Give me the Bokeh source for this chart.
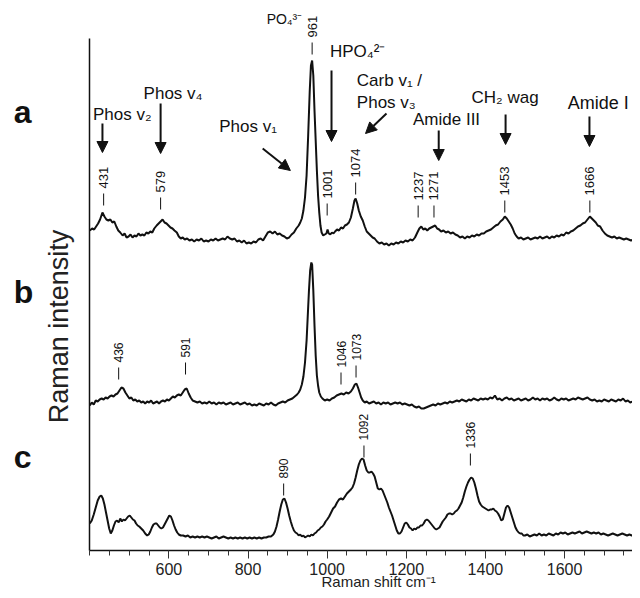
import math
from bokeh.plotting import figure
from bokeh.models import (Range1d, FixedTicker, Label, LabelSet, Arrow, NormalHead,
                          ColumnDataSource)
from bokeh.core.properties import value
from bokeh.embed import file_html
from bokeh.resources import INLINE

# ---------------- data: Raman shift (cm-1) and relative intensity ----------------
a_shift = [400, 406, 411, 416, 421, 426, 432, 437, 442, 447, 452, 457, 462, 467, 472, 477, 483, 488, 493, 498,
           503, 508, 513, 518, 523, 528, 533, 538, 543, 548, 553, 558, 563, 569, 574, 579, 584, 589, 594, 599,
           604, 609, 614, 620, 625, 630, 635, 640, 646, 652, 658, 664, 670, 676, 682, 688, 694, 700, 706, 712,
           718, 724, 730, 736, 742, 748, 754, 760, 766, 772, 778, 784, 790, 796, 802, 808, 814, 820, 826, 832,
           838, 844, 850, 856, 862, 868, 874, 880, 886, 892, 898, 904, 910, 916, 922, 928, 932, 936, 940, 944,
           948, 952, 956, 959, 962, 965, 968, 971, 974, 977, 980, 983, 986, 990, 994, 998, 1001, 1004, 1008, 1012,
           1016, 1020, 1025, 1030, 1035, 1040, 1045, 1050, 1055, 1060, 1065, 1069, 1072, 1076, 1080, 1085, 1090, 1095, 1100, 1105,
           1110, 1115, 1120, 1126, 1132, 1138, 1144, 1150, 1156, 1162, 1168, 1174, 1180, 1186, 1192, 1198, 1204, 1210, 1216, 1222,
           1228, 1233, 1238, 1243, 1248, 1253, 1258, 1263, 1268, 1273, 1278, 1283, 1288, 1294, 1300, 1306, 1312, 1318, 1324, 1330,
           1336, 1342, 1348, 1354, 1360, 1366, 1372, 1378, 1384, 1390, 1396, 1402, 1408, 1414, 1420, 1426, 1432, 1438, 1444, 1449,
           1454, 1459, 1464, 1469, 1474, 1479, 1484, 1490, 1496, 1502, 1508, 1514, 1520, 1526, 1532, 1538, 1544, 1550, 1556, 1562,
           1568, 1574, 1580, 1586, 1592, 1598, 1604, 1610, 1616, 1622, 1628, 1634, 1640, 1646, 1652, 1658, 1664, 1669, 1674, 1679,
           1684, 1690, 1696, 1702, 1708, 1714, 1720, 1726, 1732, 1738, 1744, 1750, 1756, 1762, 1768, 1774, 1780, 1786, 1792]
a_int = [20, 22, 21, 24, 27, 31, 38, 34, 31, 30, 31, 28, 29, 24, 20, 18, 15, 17, 13, 14,
         16, 13, 15, 14, 17, 15, 16, 15, 18, 17, 19, 18, 22, 25, 27, 29, 31, 28, 27, 25,
         23, 22, 20, 18, 14, 12, 13, 11, 12, 10, 11, 9, 11, 10, 12, 9, 10, 9, 11, 10,
         12, 10, 11, 12, 11, 14, 12, 11, 12, 9, 10, 8, 10, 7, 8, 7, 9, 8, 11, 12,
         10, 14, 18, 19, 17, 19, 16, 17, 15, 14, 12, 13, 16, 18, 22, 25, 28, 32, 40, 53,
         75, 115, 160, 185, 190, 175, 140, 110, 80, 55, 38, 25, 18, 15, 16, 17, 21, 17, 16, 18,
         17, 19, 21, 20, 23, 22, 25, 26, 28, 33, 42, 50, 52, 47, 40, 34, 30, 24, 19, 17,
         15, 13, 12, 9, 7, 8, 6, 7, 5, 7, 6, 8, 7, 9, 8, 10, 9, 11, 10, 13,
         18, 22, 24, 21, 22, 20, 22, 23, 24, 25, 22, 21, 19, 20, 18, 19, 17, 18, 16, 15,
         13, 14, 12, 14, 13, 15, 14, 16, 15, 17, 17, 19, 20, 21, 23, 25, 26, 29, 31, 34,
         32, 29, 26, 22, 17, 14, 12, 13, 11, 12, 13, 11, 12, 13, 12, 14, 12, 13, 14, 12,
         14, 13, 15, 14, 16, 15, 18, 17, 19, 20, 22, 24, 25, 27, 28, 31, 34, 32, 30, 28,
         25, 24, 20, 17, 15, 14, 13, 14, 12, 13, 12, 11, 12, 11, 10, 11, 9, 10, 8]

b_shift = [400, 405, 410, 415, 420, 425, 430, 435, 440, 445, 450, 455, 460, 465, 470, 475, 480, 485, 490, 495,
           500, 505, 510, 515, 520, 525, 530, 535, 540, 545, 550, 555, 560, 565, 570, 575, 580, 585, 590, 595,
           600, 605, 610, 615, 620, 625, 630, 635, 640, 645, 650, 655, 660, 666, 672, 678, 684, 690, 696, 702,
           708, 714, 720, 726, 732, 738, 744, 750, 756, 762, 768, 774, 780, 786, 792, 798, 804, 810, 816, 822,
           828, 834, 840, 846, 852, 858, 864, 870, 876, 882, 888, 894, 900, 906, 912, 918, 924, 928, 932, 936,
           940, 944, 948, 951, 954, 957, 960, 962, 965, 968, 971, 974, 977, 980, 984, 988, 994, 1000, 1006, 1012,
           1018, 1024, 1030, 1036, 1042, 1048, 1054, 1060, 1065, 1070, 1074, 1078, 1082, 1086, 1090, 1095, 1100, 1106, 1112, 1118,
           1124, 1130, 1136, 1142, 1148, 1154, 1160, 1166, 1172, 1178, 1184, 1190, 1196, 1202, 1208, 1214, 1220, 1226, 1232, 1238,
           1244, 1250, 1256, 1262, 1268, 1274, 1280, 1286, 1292, 1298, 1304, 1310, 1316, 1322, 1328, 1334, 1340, 1346, 1352, 1358,
           1364, 1370, 1376, 1382, 1388, 1394, 1400, 1406, 1412, 1418, 1424, 1430, 1436, 1442, 1448, 1454, 1460, 1466, 1472, 1478,
           1484, 1490, 1496, 1502, 1508, 1514, 1520, 1526, 1532, 1538, 1544, 1550, 1556, 1562, 1568, 1574, 1580, 1586, 1592, 1598,
           1604, 1610, 1616, 1622, 1628, 1634, 1640, 1646, 1652, 1658, 1664, 1670, 1676, 1682, 1688, 1694, 1700, 1706, 1712, 1718,
           1724, 1730, 1736, 1742, 1748, 1754, 1760, 1766, 1772, 1778, 1784, 1792]
b_int = [5, 8, 6, 10, 9, 11, 12, 11, 13, 12, 14, 15, 14, 16, 17, 20, 23, 22, 18, 15,
         12, 13, 10, 11, 9, 10, 8, 9, 7, 9, 8, 10, 7, 8, 9, 7, 9, 10, 9, 11,
         10, 12, 14, 13, 15, 16, 15, 18, 21, 22, 17, 13, 10, 9, 8, 9, 7, 8, 7, 9,
         7, 8, 6, 8, 7, 8, 6, 7, 8, 6, 7, 8, 6, 7, 8, 6, 7, 5, 6, 5,
         7, 6, 5, 7, 6, 8, 6, 5, 7, 8, 9, 8, 10, 11, 12, 14, 16, 18, 21, 26,
         34, 48, 70, 95, 120, 140, 148, 146, 120, 85, 55, 35, 25, 18, 14, 12, 10, 11, 10, 12,
         13, 15, 16, 17, 16, 18, 17, 19, 22, 26, 27, 23, 18, 13, 10, 8, 9, 7, 8, 9,
         7, 8, 6, 8, 7, 8, 6, 7, 8, 7, 8, 6, 7, 6, 5, 6, 4, 3, 4, 2,
         2, 3, 4, 5, 6, 5, 7, 6, 7, 8, 7, 9, 8, 9, 10, 9, 11, 10, 9, 11,
         10, 12, 11, 10, 12, 11, 12, 11, 13, 12, 15, 11, 12, 10, 12, 13, 11, 12, 10, 11,
         12, 10, 11, 12, 10, 11, 13, 11, 12, 10, 12, 11, 12, 10, 11, 13, 11, 10, 12, 11,
         12, 10, 11, 12, 11, 13, 12, 11, 12, 13, 11, 10, 11, 9, 10, 9, 11, 10, 9, 11,
         10, 9, 11, 10, 12, 9, 10, 8, 9, 8, 7, 6]

c_shift = [400, 405, 410, 415, 420, 425, 429, 433, 437, 441, 445, 449, 453, 457, 461, 465, 469, 473, 477, 481,
           485, 489, 493, 497, 501, 505, 509, 513, 517, 521, 525, 530, 535, 540, 545, 549, 553, 557, 561, 565,
           569, 573, 577, 581, 585, 589, 593, 597, 601, 605, 609, 613, 617, 621, 625, 630, 636, 642, 648, 654,
           660, 666, 672, 678, 684, 690, 696, 702, 708, 714, 720, 726, 732, 738, 744, 750, 756, 762, 768, 774,
           780, 786, 792, 798, 804, 810, 816, 822, 828, 834, 840, 846, 852, 858, 864, 868, 872, 876, 880, 884,
           888, 892, 896, 900, 904, 908, 912, 916, 920, 924, 928, 932, 936, 940, 944, 948, 952, 956, 960, 964,
           968, 972, 976, 980, 984, 988, 992, 996, 1000, 1005, 1010, 1015, 1020, 1025, 1030, 1035, 1040, 1045, 1050, 1055,
           1060, 1064, 1068, 1072, 1076, 1080, 1084, 1088, 1092, 1096, 1100, 1104, 1108, 1112, 1116, 1120, 1124, 1128, 1132, 1136,
           1140, 1144, 1148, 1152, 1156, 1160, 1164, 1168, 1172, 1176, 1180, 1184, 1188, 1192, 1196, 1200, 1204, 1208, 1212, 1216,
           1220, 1224, 1228, 1232, 1236, 1240, 1244, 1248, 1252, 1256, 1260, 1264, 1268, 1272, 1276, 1280, 1284, 1288, 1292, 1296,
           1300, 1304, 1308, 1312, 1316, 1320, 1324, 1328, 1332, 1336, 1340, 1344, 1348, 1352, 1356, 1360, 1364, 1368, 1372, 1376,
           1380, 1384, 1388, 1392, 1396, 1400, 1404, 1408, 1412, 1416, 1420, 1424, 1428, 1432, 1436, 1440, 1444, 1448, 1452, 1456,
           1460, 1464, 1468, 1472, 1476, 1480, 1484, 1488, 1492, 1496, 1500, 1506, 1512, 1518, 1524, 1530, 1536, 1542, 1548, 1554,
           1560, 1566, 1572, 1578, 1584, 1590, 1596, 1602, 1608, 1614, 1620, 1626, 1632, 1638, 1644, 1650, 1656, 1662, 1668, 1674,
           1680, 1686, 1692, 1698, 1704, 1710, 1716, 1722, 1728, 1734, 1740, 1746, 1752, 1758, 1764, 1770, 1776, 1782, 1788, 1792]
c_int = [17, 20, 26, 33, 40, 44, 45, 42, 36, 28, 20, 12, 7, 10, 15, 19, 20, 18, 22, 19,
         21, 20, 22, 24, 25, 23, 21, 20, 17, 15, 14, 12, 10, 7, 5, 6, 9, 13, 16, 17,
         17, 15, 13, 12, 13, 16, 19, 22, 25, 24, 20, 15, 11, 8, 6, 5, 5, 4, 5, 3,
         4, 3, 4, 3, 4, 3, 4, 3, 2, 3, 4, 2, 3, 4, 3, 2, 3, 2, 3, 2,
         3, 2, 3, 2, 3, 2, 3, 2, 3, 2, 3, 3, 4, 4, 6, 9, 14, 21, 29, 36,
         41, 42, 38, 32, 25, 19, 14, 10, 8, 7, 5, 6, 4, 5, 3, 4, 5, 4, 6, 5,
         7, 8, 10, 11, 13, 14, 16, 19, 21, 24, 28, 32, 34, 38, 41, 42, 41, 44, 47, 49,
         51, 53, 57, 63, 70, 76, 80, 82, 81, 75, 70, 68, 68, 69, 67, 64, 58, 52, 51, 52,
         50, 46, 42, 38, 33, 29, 25, 20, 15, 10, 7, 7, 9, 13, 17, 18, 16, 13, 12, 10,
         12, 11, 13, 13, 15, 15, 17, 20, 21, 20, 18, 16, 14, 12, 11, 12, 13, 16, 19, 21,
         23, 26, 27, 27, 26, 27, 29, 30, 32, 35, 38, 43, 49, 54, 58, 61, 63, 62, 58, 52,
         45, 39, 36, 34, 33, 32, 31, 30, 31, 31, 32, 30, 29, 27, 24, 20, 21, 27, 33, 35,
         33, 28, 23, 18, 13, 10, 8, 7, 7, 5, 5, 6, 4, 5, 6, 5, 7, 5, 6, 5,
         7, 6, 5, 7, 6, 8, 7, 8, 6, 7, 8, 7, 8, 9, 7, 8, 9, 8, 7, 8,
         7, 8, 6, 7, 6, 5, 6, 7, 6, 5, 6, 7, 6, 5, 6, 5, 6, 5, 6, 5]

# vertical stacking offsets of the three traces (plot units)
A_OFF, B_OFF, C_OFF = 300, 140, 10

# peak labels (text) and their positions on the shift axis
a_peak_text = ["431", "579", "961", "1001", "1074", "1237", "1271", "1453", "1666"]
a_peak_x = [435, 579, 962, 1000, 1072, 1230, 1270, 1449, 1664]
a_peak_y = [362, 358, 513, 352, 373, 350, 350, 355, 355]
b_peak_text = ["436", "591", "1046", "1073"]
b_peak_x = [473, 642, 1035, 1073]
b_peak_y = [188, 193, 183, 190]
c_peak_text = ["890", "1092", "1336"]
c_peak_x = [890, 1093, 1362]
c_peak_y = [72, 110, 102]

x_major_ticks = [600, 800, 1000, 1200, 1400, 1600]
x_minor_ticks = list(range(400, 1800, 50))

SANS = "Liberation Sans"
INK = "#111111"

# the frame fills the canvas; the axes are pinned at shift 400 and intensity 0
p = figure(width=632, height=590, output_backend="svg", toolbar_location=None,
           x_range=Range1d(174.3, 1771.8), y_range=Range1d(-40, 550), min_border=0)
p.outline_line_color = None
p.grid.visible = False

xa = p.xaxis[0]
xa.fixed_location = 0
xa.bounds = (400, 1800)
xa.ticker = FixedTicker(ticks=x_major_ticks, minor_ticks=x_minor_ticks)
xa.axis_line_width = 1.5
xa.axis_line_color = INK
xa.major_tick_out = 8
xa.major_tick_in = 0
xa.minor_tick_out = 5
xa.minor_tick_in = 0
xa.major_tick_line_color = "#333333"
xa.minor_tick_line_color = "#333333"
xa.major_label_text_font = SANS
xa.major_label_text_font_size = "16px"
xa.major_label_text_color = "#222222"
xa.major_label_standoff = 4

ya = p.yaxis[0]
ya.fixed_location = 400
ya.bounds = (0, 512)
ya.ticker = FixedTicker(ticks=[])
ya.axis_line_width = 1.5
ya.axis_line_color = INK
ya.major_tick_out = 0
ya.minor_tick_out = 0
ya.major_label_text_font_size = "0px"

# spectra
for xs, ys, off in ((a_shift, a_int, A_OFF), (b_shift, b_int, B_OFF), (c_shift, c_int, C_OFF)):
    p.line(xs, [v + off for v in ys], line_color=INK, line_width=2)

# peak labels with their little tick marks
def peak_labels(xs, ys, texts, size):
    src = ColumnDataSource(dict(x=xs, y=ys, text=texts))
    p.add_layout(LabelSet(x="x", y="y", text="text", source=src, angle=math.pi / 2,
                          text_align="left", text_baseline="middle",
                          text_font=value(SANS), text_font_size=size, text_color=INK))
    p.segment(x0=xs, x1=xs, y0=[y - 17 for y in ys], y1=[y - 5 for y in ys],
              line_color=INK, line_width=1)

peak_labels(a_peak_x, a_peak_y, a_peak_text, "13px")
peak_labels(b_peak_x, b_peak_y, b_peak_text, "12px")
peak_labels(c_peak_x, c_peak_y, c_peak_text, "12px")

# band annotations
def note(x, y, text, size="17px"):
    p.add_layout(Label(x=x, y=y, text=text, text_font=SANS, text_font_size=size,
                       text_color=INK, text_baseline="alphabetic"))

note(847, 532, "PO\u2084\u00b3\u207b", size="14px")
note(408, 436, "Phos v\u2082")
note(536, 457, "Phos v\u2084")
note(727, 424, "Phos v\u2081")
note(1007, 499, "HPO\u2084\u00b2\u207b")
note(1075, 470, "Carb v\u2081 /")
note(1075, 448, "Phos v\u2083")
note(1217, 431, "Amide III")
note(1365, 453, "CH\u2082 wag")
note(1608, 448, "Amide I", size="18px")

arrows = [((432, 427), (432, 398)), ((579, 447), (579, 397)), ((837, 402), (907, 380)),
          ((1011, 480), (1011, 409)), ((1150, 437), (1097, 417)), ((1282, 420), (1282, 390)),
          ((1451, 436), (1451, 406)), ((1663, 434), (1663, 404))]
for (x0, y0), (x1, y1) in arrows:
    p.add_layout(Arrow(x_start=x0, y_start=y0, x_end=x1, y_end=y1, line_width=2, line_color=INK,
                       end=NormalHead(size=11, fill_color=INK, line_color=INK)))

# trace letters
for txt, y in (("a", 439), ("b", 259), ("c", 94)):
    p.add_layout(Label(x=208, y=y, text=txt, text_font=SANS, text_font_size="32px",
                       text_font_style="bold", text_color=INK, text_baseline="middle"))

# axis titles
p.add_layout(Label(x=321, y=224, text="Raman intensity", angle=math.pi / 2, text_font=SANS,
                   text_font_size="27px", text_color="#222222", text_align="center",
                   text_baseline="middle"))
p.add_layout(Label(x=1130, y=-39.5, text="Raman shift cm\u207b\u00b9", text_font=SANS,
                   text_font_size="15px", text_color="#222222", text_align="center",
                   text_baseline="bottom"))

open("out.html", "w").write(file_html(p, INLINE))
